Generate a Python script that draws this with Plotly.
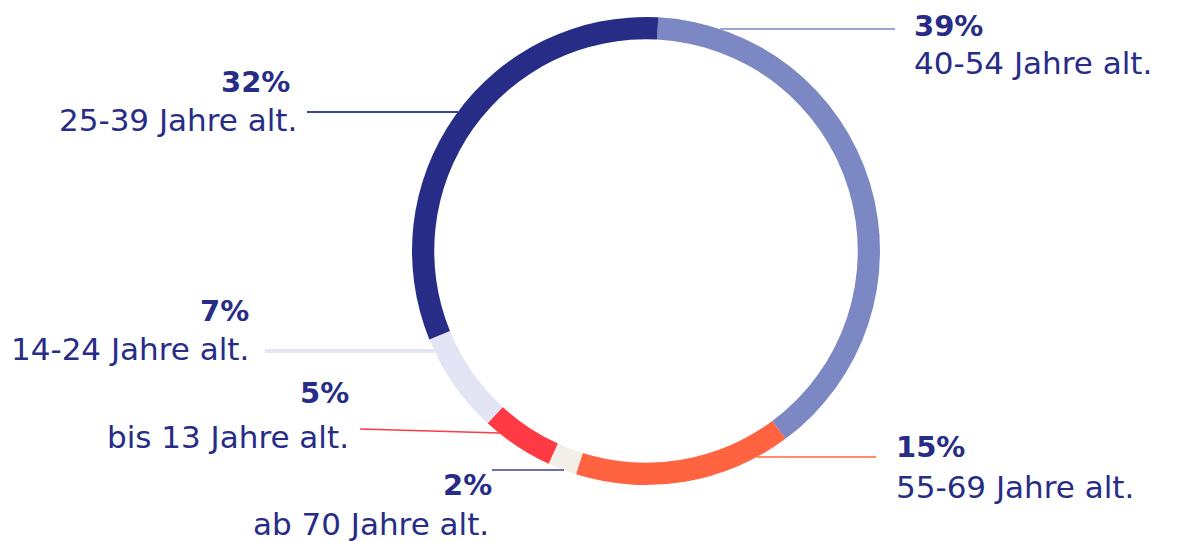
import plotly.graph_objects as go

# Data
categories = ["40-54 Jahre alt.", "55-69 Jahre alt.", "ab 70 Jahre alt.",
              "bis 13 Jahre alt.", "14-24 Jahre alt.", "25-39 Jahre alt."]
shares = [39, 15, 2, 5, 7, 32]
pct_labels = ["39%", "15%", "2%", "5%", "7%", "32%"]
colors = ["#7b88c4", "#ff6340", "#f3efe7", "#ff3a44", "#e3e5f4", "#272d86"]

W, H = 1182, 541
OFF = 8  # page body margin
TEXT = "#272d86"
FONT = "DejaVu Sans"

def px(x):
    return (x - OFF) / W

def py(y):
    return 1 - (y - OFF) / H

cx, cy, R = 646, 251, 234

fig = go.Figure(go.Pie(
    values=shares, labels=categories, sort=False, direction="clockwise",
    rotation=3, hole=0.905, textinfo="none", hoverinfo="label+percent",
    marker=dict(colors=colors, line=dict(width=0)),
    domain=dict(x=[px(cx - R), px(cx + R)], y=[py(cy + R), py(cy - R)]),
    showlegend=False,
))

# label layout: (pct x, pct y, label x, label y, anchor, line pts, line color, width)
layout_info = [
    (913, 26, 913, 63, "left", (720, 29, 895, 29), "#7b88c4", 1.5),
    (895, 447, 895, 487, "left", (757, 457, 876, 457), "#ff6340", 1.5),
    (493, 485, 490, 524, "right", (492, 470, 564, 470), "#3a4296", 1.5),
    (350, 393, 350, 437, "right", (360, 429, 500, 433), "#ff3a44", 1.5),
    (250, 311, 250, 349, "right", (265, 351, 434, 351), "#e3e5f4", 4),
    (291, 82, 298, 120, "right", (307, 112, 458, 112), "#3a4296", 2),
]

annotations = []
shapes = []
for i, (x1, y1, x2, y2, anc, ln, lc, lw) in enumerate(layout_info):
    annotations.append(dict(x=px(x1), y=py(y1), xref="paper", yref="paper",
                            text="<b>" + pct_labels[i] + "</b>", showarrow=False,
                            xanchor=anc, yanchor="middle", borderpad=0,
                            font=dict(family=FONT, size=29, color=TEXT)))
    annotations.append(dict(x=px(x2), y=py(y2), xref="paper", yref="paper",
                            text=categories[i], showarrow=False,
                            xanchor=anc, yanchor="middle", borderpad=0,
                            font=dict(family=FONT, size=31, color=TEXT)))
    shapes.append(dict(type="line", xref="paper", yref="paper",
                       x0=px(ln[0]), y0=py(ln[1]), x1=px(ln[2]), y1=py(ln[3]),
                       line=dict(color=lc, width=lw)))

fig.update_layout(
    width=W, height=H, margin=dict(l=0, r=0, t=0, b=0),
    paper_bgcolor="white", plot_bgcolor="white",
    annotations=annotations, shapes=shapes,
)

fig.write_html("out.html")
